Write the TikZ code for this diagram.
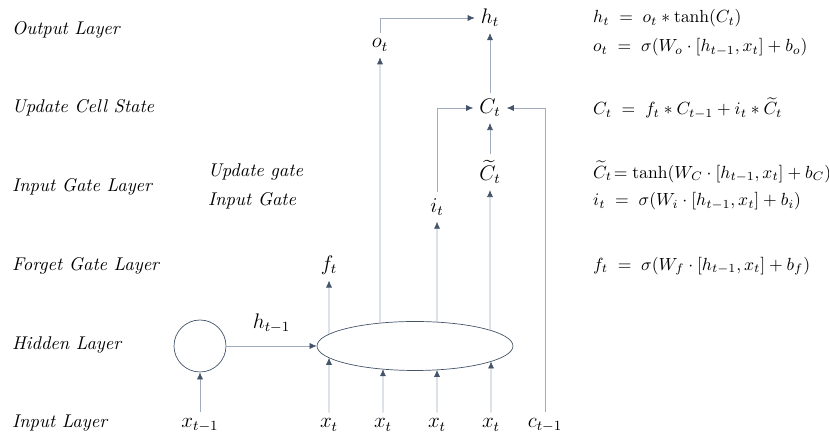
\documentclass[tikz,border=0pt]{standalone}
\usepackage{amsmath}
\usetikzlibrary{shapes.geometric,arrows.meta,positioning,intersections}
\definecolor{wire}{RGB}{160,172,190}
\definecolor{slate}{RGB}{68,84,106}
\tikzset{layer/.style = {anchor = west, font = \fontsize{10.5}{12}\itshape},
         var/.style = {font = \fontsize{12}{14}\selectfont},
         eqn/.style = {anchor = west, font = \fontsize{9.7}{12}\selectfont},
         unit/.style = {draw = slate, circle, inner sep = 0, minimum size = 1.04cm},
         cell/.style = {draw = slate, ellipse, inner sep = 0, minimum width = 3.92cm, minimum height = 0.98cm},
         conn/.style = {draw = wire, -{Latex[length = 4pt, width = 3.5pt, color = slate]}},
}

\begin{document}
\begin{tikzpicture}[x = 0.02cm, y = 0.02cm]
  \useasboundingbox (0,0) rectangle (829,435);

  % layer names
  \node[layer] (lout)  at (6,405) {Output Layer};
  \node[layer] (lcell) at (6,327) {Update Cell State};
  \node[layer] (lin)   at (6,248) {Input Gate Layer};
  \node[layer] (lfgt)  at (6,169) {Forget Gate Layer};
  \node[layer] (lhid)  at (6,90)  {Hidden Layer};
  \node[layer] (linp)  at (6,12)  {Input Layer};
  \node[layer] (lupd)  at (202,263) {Update gate};
  \node[layer] (lgate) at (202,234) {Input Gate};

  % units
  \node[unit] (hprev) at (200,89) {};
  \node[cell, name path = cellp] (cell) at (415,89) {};

  \node[var] (xprev) at (200,10) {$x_{t-1}$};
  \node[var] (x1) at (329,10) {$x_t$};
  \node[var] (x2) at (383,10) {$x_t$};
  \node[var] (x3) at (437,10) {$x_t$};
  \node[var] (x4) at (491,10) {$x_t$};
  \node[var] (cprev) at (545,10) {$c_{t-1}$};

  \node[var] (ft)   at (329,170) {$f_t$};
  \node[var] (it)   at (437,228) {$i_t$};
  \node[var] (Ctil) at (490,263) {$\widetilde{C}_t$};
  \node[var] (Ct)   at (490,327) {$C_t$};
  \node[var] (ot)   at (380,390) {$o_t$};
  \node[var] (ht)   at (490,417) {$h_t$};

  % equations
  \node[eqn] (eqh) at (587,417) {$h_t \;=\; o_t * \tanh(C_t)$};
  \node[eqn] (eqo) at (587,388) {$o_t \;=\; \sigma(W_o \cdot [h_{t-1}, x_t] + b_o)$};
  \node[eqn] (eqc) at (587,327) {$C_t \;=\; f_t * C_{t-1} + i_t * \widetilde{C}_t$};
  \node[eqn] (equ) at (587,263) {$\widetilde{C}_t\!= \tanh(W_C \cdot [h_{t-1}, x_t] + b_C)$};
  \node[eqn] (eqi) at (587,234) {$i_t \;=\; \sigma(W_i \cdot [h_{t-1}, x_t] + b_i)$};
  \node[eqn] (eqf) at (587,169) {$f_t \;=\; \sigma(W_f \cdot [h_{t-1}, x_t] + b_f)$};

  \draw[conn] (xprev) -- (hprev);
  \draw[conn] (hprev) -- node[var, above = 4pt] (hlab) {$h_{t-1}$} (cell);

  \foreach \n in {x1,x2,x3,x4} {
    \path[name path = in\n] (\n) -- (\n |- cell.center);
    \draw[conn, name intersections = {of = cellp and in\n, by = b\n}] (\n) -- (b\n);
  }
  \foreach \n in {ft,ot,it,Ctil} {
    \path[name path = up\n] (\n) -- (\n |- cell.center);
    \draw[conn, name intersections = {of = cellp and up\n, by = t\n}] (t\n) -- (\n);
  }

  \draw[conn] (ot.north) |- (ht);
  \draw[conn] (it.north) |- (Ct);
  \draw[conn] (Ctil) -- (Ct);
  \draw[conn] (Ct) -- (ht);
  \draw[conn] (cprev.north) |- (Ct);

\end{tikzpicture}
\end{document}
